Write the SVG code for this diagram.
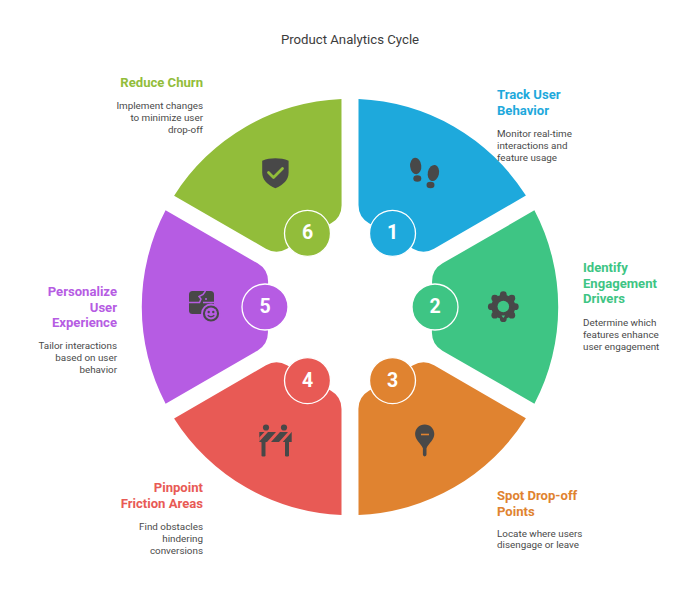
<svg xmlns="http://www.w3.org/2000/svg" xmlns:xlink="http://www.w3.org/1999/xlink" width="700" height="590" viewBox="0 0 700 590">
<style>
text{font-family:Roboto,"Liberation Sans",sans-serif}
.title{font-size:13.2px;fill:#3c3c3c;text-anchor:middle}
.h{font-size:13.1px;font-weight:700}
.d{font-size:9.85px;fill:#4a4a4a}
.e{text-anchor:end}
.num{font-size:19.5px;font-weight:700;fill:#fff;text-anchor:middle}
.ring{stroke:#fff;stroke-width:1.3}
.ic{fill:#484848}
.c1{fill:#1ea9dc}.c2{fill:#3ec584}.c3{fill:#e08330}.c4{fill:#e85a55}.c5{fill:#b65ce3}.c6{fill:#92bd3a}
</style>
<defs>
<path id="wedge" d="M358.500 99A208 208 0 0 1 525.900 195.600L434 248.800Q423.500 254.800 413 248.800L369 223.200Q358.500 217.200 358.500 205Z"/>
</defs>
<rect width="700" height="590" fill="#fff"/>
<text class="title" x="350" y="44">Product Analytics Cycle</text>
<g id="node-1">
<use xlink:href="#wedge" href="#wedge" class="c1"/>
<g class="ic"><ellipse cx="415.700" cy="166" rx="5.600" ry="8.200" transform="rotate(-6 415.700 166)"/><ellipse cx="417.300" cy="178.500" rx="4" ry="3.200"/><ellipse cx="433.400" cy="173" rx="5.600" ry="8.200" transform="rotate(12 433.400 173)"/><ellipse cx="430.500" cy="185" rx="4" ry="3.200"/></g>
<circle class="c1 ring" cx="392.500" cy="233.400" r="23"/>
<text class="num" x="392.500" y="239.300">1</text>
<text class="h c1" x="497" y="99">Track User</text><text class="h c1" x="497" y="114.500">Behavior</text>
<text class="d" x="497" y="137">Monitor real-time</text><text class="d" x="497" y="149">interactions and</text><text class="d" x="497" y="160.500">feature usage</text>
</g>
<g id="node-2">
<use xlink:href="#wedge" href="#wedge" class="c2" transform="rotate(60 350 307)"/>
<g class="ic"><circle cx="503.300" cy="306.700" r="12"/><circle cx="503.300" cy="294.700" r="3.400"/><circle cx="511.800" cy="298.200" r="3.400"/><circle cx="515.300" cy="306.700" r="3.400"/><circle cx="511.800" cy="315.200" r="3.400"/><circle cx="503.300" cy="318.700" r="3.400"/><circle cx="494.800" cy="315.200" r="3.400"/><circle cx="491.300" cy="306.700" r="3.400"/><circle cx="494.800" cy="298.200" r="3.400"/></g>
<circle class="c2" cx="503.300" cy="306.500" r="5.800"/><path class="c2" d="M501.500 315.500h3.600l-1.800 2.500z"/>
<circle class="c2 ring" cx="435" cy="307" r="23"/>
<text class="num" x="435" y="313">2</text>
<text class="h c2" x="583" y="272">Identify</text><text class="h c2" x="583" y="288">Engagement</text><text class="h c2" x="583" y="303">Drivers</text>
<text class="d" x="583" y="326">Determine which</text><text class="d" x="583" y="338">features enhance</text><text class="d" x="583" y="349.500">user engagement</text>
</g>
<g id="node-3">
<use xlink:href="#wedge" href="#wedge" class="c3" transform="rotate(120 350 307)"/>
<path class="ic" d="M424.700 424.500c5.400 0 9.600 4.200 9.600 9.600 0 6-5.600 9-7.800 14.200v6.300a1.800 1.800 0 0 1-3.600 0v-6.300c-2.200-5.200-7.800-8.200-7.800-14.200 0-5.400 4.200-9.600 9.600-9.600z"/>
<rect class="c3" x="421" y="433.700" width="8" height="1.600"/>
<circle class="c3 ring" cx="392.500" cy="380.600" r="23"/>
<text class="num" x="392.500" y="386.500">3</text>
<text class="h c3" x="497" y="500">Spot Drop-off</text><text class="h c3" x="497" y="516">Points</text>
<text class="d" x="497" y="536.500">Locate where users</text><text class="d" x="497" y="548">disengage or leave</text>
</g>
<g id="node-4">
<use xlink:href="#wedge" href="#wedge" class="c4" transform="rotate(180 350 307)"/>
<g class="ic"><circle cx="266" cy="427.500" r="3.100"/><circle cx="284" cy="427.500" r="3.100"/><rect x="261.500" y="441" width="4" height="15.500" rx="1.200"/><rect x="285" y="441" width="4" height="15.500" rx="1.200"/><rect x="259.300" y="432" width="32.400" height="10"/></g>
<path class="c4" d="M259.300 437.500L264.500 432H268L259.300 441.500zM267 442L276 432H280L271 442zM279 442L288 432H291.700L282.700 442z"/>
<circle class="c4 ring" cx="307.500" cy="380.600" r="23"/>
<text class="num" x="307.500" y="386.500">4</text>
<text class="h c4 e" x="203" y="492">Pinpoint</text><text class="h c4 e" x="203" y="508">Friction Areas</text>
<text class="d e" x="203" y="530">Find obstacles</text><text class="d e" x="203" y="542">hindering</text><text class="d e" x="203" y="554">conversions</text>
</g>
<g id="node-5">
<use xlink:href="#wedge" href="#wedge" class="c5" transform="rotate(240 350 307)"/>
<rect class="ic" x="189" y="291" width="25" height="23" rx="3.500"/>
<path d="M189 302.500H199.500L201 299 199 296.500 203 294.500 205.500 291M203 302.500H214M205 299H207" fill="none" stroke="#b65ce3" stroke-width="1.500"/>
<circle class="ic" cx="211" cy="313.500" r="9" stroke="#b65ce3" stroke-width="1.800"/>
<circle class="c5" cx="211" cy="313.500" r="6"/>
<circle class="ic" cx="208.700" cy="312" r="1.200"/><circle class="ic" cx="213.300" cy="312" r="1.200"/><path d="M207.700 315.200q3.300 3 6.600 0" fill="none" stroke="#484848" stroke-width="1.300"/>
<circle class="c5 ring" cx="265" cy="307" r="23"/>
<text class="num" x="265" y="313">5</text>
<text class="h c5 e" x="117" y="296">Personalize</text><text class="h c5 e" x="117" y="311.500">User</text><text class="h c5 e" x="117" y="327">Experience</text>
<text class="d e" x="117" y="349">Tailor interactions</text><text class="d e" x="117" y="361">based on user</text><text class="d e" x="117" y="373">behavior</text>
</g>
<g id="node-6">
<use xlink:href="#wedge" href="#wedge" class="c6" transform="rotate(300 350 307)"/>
<path class="ic" d="M275.400 158.300c4.500 0 9 .7 13.200 2.500v12c0 7-5.500 12.500-13.200 15.500-7.700-3-13.200-8.500-13.200-15.500v-12c4.200-1.800 8.700-2.500 13.200-2.500z"/>
<path d="M268.500 172.500l5 5 9-9" fill="none" stroke="#92bd3a" stroke-width="2.800" stroke-linecap="round" stroke-linejoin="round"/>
<circle class="c6 ring" cx="307.500" cy="233.400" r="23"/>
<text class="num" x="307.500" y="239.300">6</text>
<text class="h c6 e" x="203" y="87">Reduce Churn</text>
<text class="d e" x="203" y="109">Implement changes</text><text class="d e" x="203" y="121">to minimize user</text><text class="d e" x="203" y="133">drop-off</text>
</g>
<g id="connectors"/>
</svg>
